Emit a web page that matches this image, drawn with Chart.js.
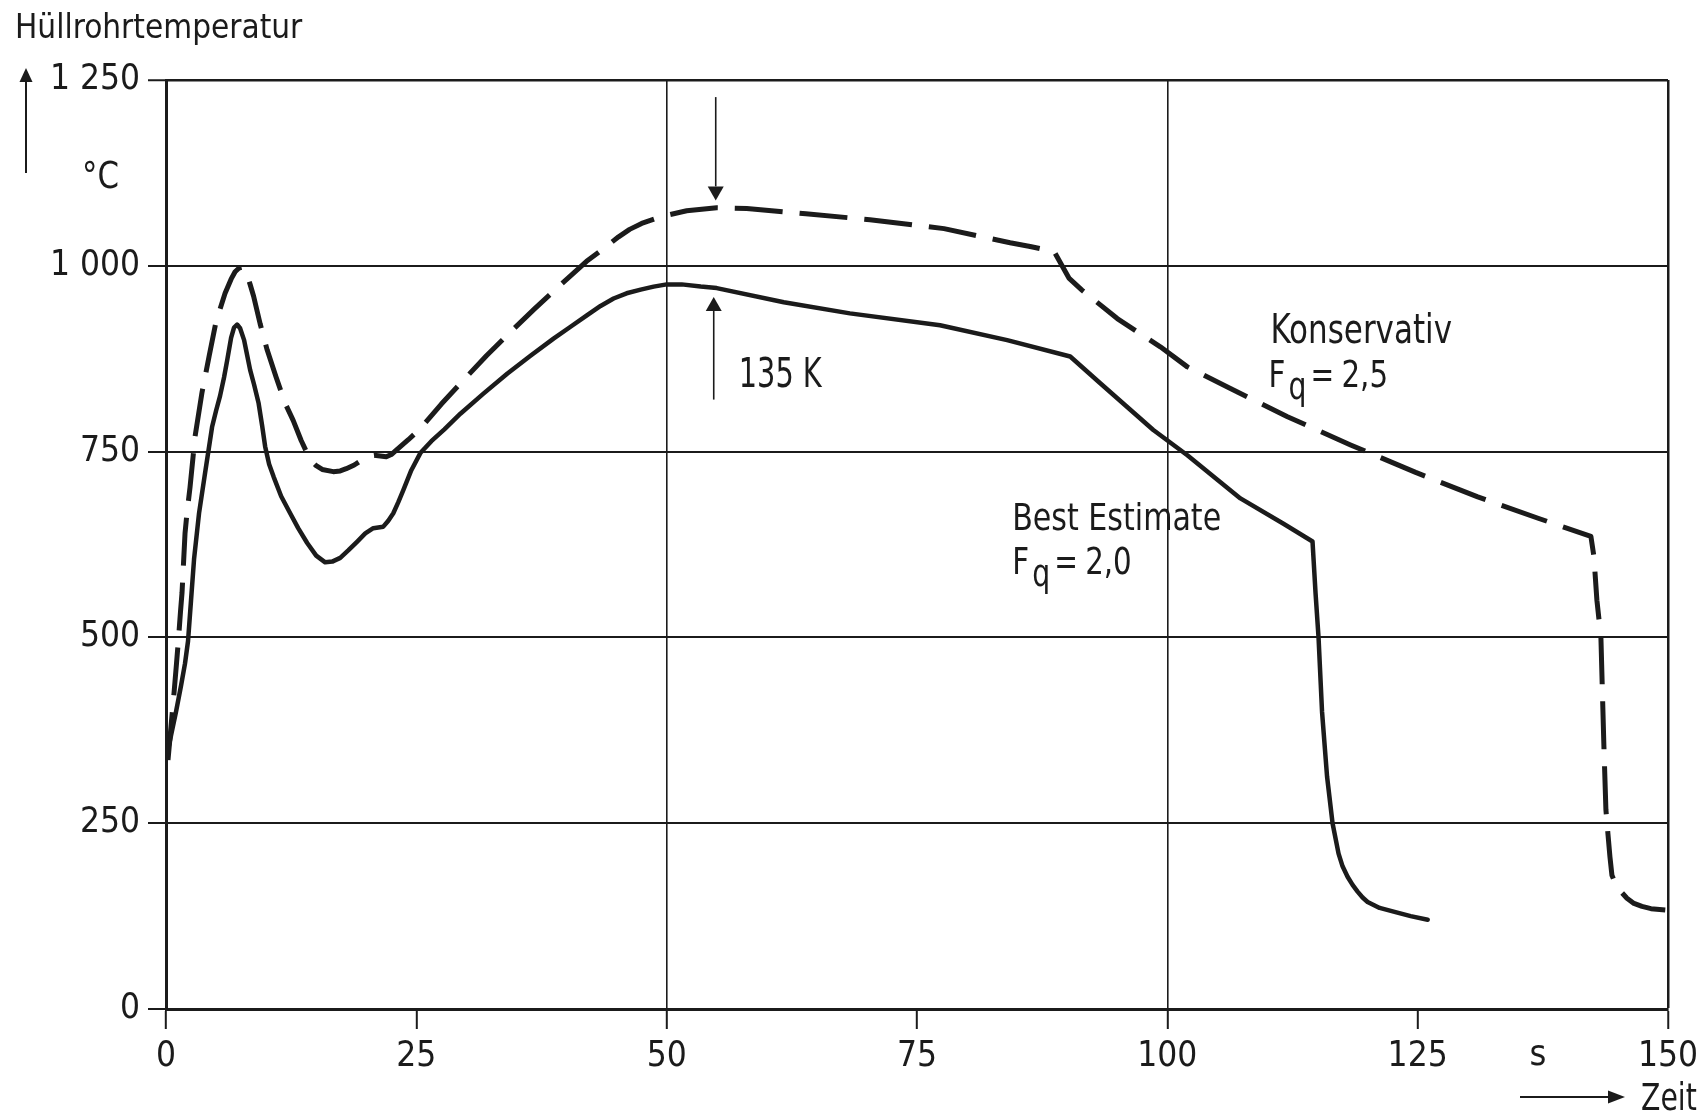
<!DOCTYPE html>
<html>
<head>
<meta charset="utf-8">
<title>Hüllrohrtemperatur</title>
<script src="https://cdn.jsdelivr.net/npm/chart.js@4.4.1/dist/chart.umd.min.js"></script>
<style>
  html, body { margin: 0; padding: 0; background: #fff; }
  canvas { display: block; }
</style>
</head>
<body>
<canvas id="chart" width="1708" height="1117"></canvas>
<script>
// Hüllrohrtemperatur (°C) über der Zeit (s) für zwei Rechenannahmen

// Best Estimate, Fq = 2,0 (durchgezogen)
const timeBestEstimate = [0, 0.5, 1.0, 1.5, 1.9, 2.2, 2.5, 2.8, 3.3, 3.9, 4.6, 5.0, 5.4, 5.8, 6.1, 6.5, 6.8, 7.1, 7.4, 7.8,
  8.1, 8.4, 8.8, 9.25, 9.6, 9.9, 10.3, 10.75, 11.5, 12.4, 13.2, 14.1, 15.0, 15.9, 16.6, 17.4, 18.2, 19.1, 19.9, 20.7,
  21.7, 22.2, 22.7, 23.2, 23.7, 24.5, 25.4, 26.5, 27.8, 29.4, 31.7, 34.1, 36.4, 38.7, 40.4, 42.1, 43.4, 44.7, 46.0, 47.4,
  48.7, 50.0, 51.5, 53.4, 55, 61.7, 68.3, 77.3, 84, 90.3, 93.3, 98.6, 102, 105, 107.3, 111.6, 114.5, 114.8, 115.1, 115.45,
  115.95, 116.5, 117.1, 117.5, 118.0, 118.5, 119, 119.5, 120, 121.2, 122.6, 124.3, 126];
const tempBestEstimate = [335, 368, 400, 435, 465, 495, 550, 605, 667, 721, 783, 805, 825, 850, 872, 903, 917, 921, 916, 900,
  880, 860, 840, 815, 785, 757, 733, 716, 690, 667, 647, 627, 610, 601, 602, 607, 617, 629, 640, 647,
  649, 657, 667, 682, 698, 725, 748, 764, 780, 801, 828, 855, 879, 902, 918, 934, 946, 956, 963, 968,
  972, 975, 975, 972, 970, 951, 936, 920, 900, 878, 842, 779, 745, 712, 687, 653, 629, 560, 500, 400,
  313, 250, 209, 192, 178, 167, 158, 150, 144, 136, 131, 125, 120];

// Konservativ, Fq = 2,5 (gestrichelt)
const timeKonservativ = [0.2, 0.5, 0.8, 1.05, 1.26, 1.45, 1.6, 1.75, 1.9, 2.1, 2.4, 2.9, 3.6, 4.3, 5.0, 5.9, 6.5, 6.9, 7.3, 7.6,
  8.0, 8.4, 8.75, 9.4, 10.1, 11.0, 11.9, 12.7, 13.5, 14.4, 15.0, 15.6, 16.7, 17.4, 18.0, 18.8, 19.6, 20.3, 20.8, 21.4,
  22.0, 22.5, 23.0, 24.2, 25.4, 27.5, 29.7, 32.0, 34.4, 36.8, 39.2, 40.7, 42.0, 43.5, 45.2, 46.3, 47.5, 48.8, 50, 52,
  55, 58, 63.9, 70.3, 77.7, 84.3, 86.3, 88.7, 90.2, 91.5, 95, 99.3, 102, 106.3, 112, 118.3, 124.8, 131, 137.1, 142.3,
  142.6, 142.9, 143.3, 143.6, 143.8, 144.0, 144.2, 144.4, 144.8, 145.3, 145.9, 146.6, 147.4, 148.3, 150];
const tempKonservativ = [335, 380, 425, 465, 500, 535, 560, 600, 640, 668, 702, 770, 830, 878, 925, 963, 982, 992, 997, 998,
  992, 975, 959, 922, 887, 850, 815, 792, 765, 739, 731, 726, 723, 724, 727, 732, 739, 744, 745, 744,
  743, 746, 752, 766, 781, 814, 846, 879, 911, 942, 972, 990, 1006, 1021, 1039, 1049, 1057, 1063, 1068, 1074,
  1078, 1077, 1070, 1062, 1050, 1031, 1026, 1019, 983, 967, 929, 891, 864, 835, 797, 759, 722, 689, 660, 636,
  609, 550, 500, 353, 268, 236, 205, 180, 167, 158, 149, 142, 138, 135, 133];

// Achsteilung
const xTickValues = [0, 25, 50, 75, 100, 125, 150];
const yTickValues = [0, 250, 500, 750, 1000, 1250];
const yTickLabels = ['0', '250', '500', '750', '1 000', '1 250'];

const INK = '#1b1b1b';
const FONT = '"DejaVu Sans Condensed", "Liberation Sans", sans-serif';

const toPoints = (xs, ys) => xs.map((t, i) => ({ x: t, y: ys[i] }));

function arrow(ctx, x1, y1, x2, y2, head, half, width) {
  const ang = Math.atan2(y2 - y1, x2 - x1);
  const bx = x2 - head * Math.cos(ang), by = y2 - head * Math.sin(ang);
  ctx.lineWidth = width;
  ctx.beginPath(); ctx.moveTo(x1, y1); ctx.lineTo(bx, by); ctx.stroke();
  ctx.beginPath();
  ctx.moveTo(x2, y2);
  ctx.lineTo(bx + half * Math.sin(ang), by - half * Math.cos(ang));
  ctx.lineTo(bx - half * Math.sin(ang), by + half * Math.cos(ang));
  ctx.closePath(); ctx.fill();
}

// schmal laufende Schrift: horizontal gestaucht
function text(ctx, s, x, y, size, sx, align) {
  ctx.save();
  ctx.font = `${size}px ${FONT}`;
  ctx.textAlign = align || 'left';
  ctx.textBaseline = 'alphabetic';
  ctx.translate(x, y);
  ctx.scale(sx, 1);
  ctx.fillText(s, 0, 0);
  ctx.restore();
}

// F mit tiefgestelltem q, dann "= Wert"
function fqLabel(ctx, x0, base, value) {
  text(ctx, 'F', x0, base, 37, 0.88);
  text(ctx, 'q', x0 + 20, base + 12, 37, 0.85);
  text(ctx, '=', x0 + 42, base, 37, 0.85);
  text(ctx, value, x0 + 73, base, 37, 0.88);
}

const labelsPlugin = {
  id: 'beschriftung',
  afterDraw(chart) {
    const { ctx, chartArea: a, scales: { x, y } } = chart;
    ctx.save();
    ctx.fillStyle = INK;
    ctx.strokeStyle = INK;

    // Achsentitel y
    text(ctx, 'Hüllrohrtemperatur', a.left - 151, a.top - 42, 33, 1);
    arrow(ctx, a.left - 140, a.top + 93, a.left - 140, a.top - 12, 14, 6.5, 2);
    text(ctx, '°C', a.left - 84, a.top + 108, 38, 0.9);

    // Achsentitel x
    text(ctx, 's', x.getPixelForValue(137), a.bottom + 56, 36, 1, 'center');
    arrow(ctx, a.right - 148, a.bottom + 88, a.right - 43, a.bottom + 88, 17, 6.5, 2);
    text(ctx, 'Zeit', a.right - 27, a.bottom + 101, 37, 0.85);

    // Differenz der Maxima
    arrow(ctx, x.getPixelForValue(54.9), y.getPixelForValue(1227), x.getPixelForValue(54.9), y.getPixelForValue(1088), 14, 8, 1.6);
    arrow(ctx, x.getPixelForValue(54.7), y.getPixelForValue(820), x.getPixelForValue(54.7), y.getPixelForValue(958), 14, 8, 1.6);
    text(ctx, '135 K', x.getPixelForValue(57.2), y.getPixelForValue(837), 40, 0.8);

    // Kurvenbezeichnungen
    text(ctx, 'Konservativ', x.getPixelForValue(110.3), y.getPixelForValue(896), 41, 0.84);
    fqLabel(ctx, x.getPixelForValue(110.1), y.getPixelForValue(837), '2,5');
    text(ctx, 'Best Estimate', x.getPixelForValue(84.5), y.getPixelForValue(644.5), 38, 0.88);
    fqLabel(ctx, x.getPixelForValue(84.5), y.getPixelForValue(585), '2,0');

    ctx.restore();
  }
};

new Chart(document.getElementById('chart'), {
  type: 'line',
  data: {
    datasets: [
      {
        label: 'Best Estimate  Fq = 2,0',
        data: toPoints(timeBestEstimate, tempBestEstimate),
        borderColor: INK,
        borderWidth: 4.5,
        tension: 0,
        pointRadius: 0,
        borderJoinStyle: 'round',
        borderCapStyle: 'round'
      },
      {
        label: 'Konservativ  Fq = 2,5',
        data: toPoints(timeKonservativ, tempKonservativ),
        borderColor: INK,
        borderWidth: 5,
        borderDash: [48, 17],
        tension: 0,
        pointRadius: 0,
        borderJoinStyle: 'round',
        borderCapStyle: 'butt'
      }
    ]
  },
  options: {
    responsive: false,
    animation: false,
    events: [],
    layout: { padding: { top: 80, right: 40, left: 0, bottom: 0 } },
    plugins: { legend: { display: false }, tooltip: { enabled: false } },
    scales: {
      x: {
        type: 'linear',
        min: 0,
        max: 150,
        afterFit: (s) => { s.height = 108; },
        afterBuildTicks: (s) => { s.ticks = xTickValues.map(v => ({ value: v })); },
        border: { display: true, color: INK, width: 3 },
        grid: {
          drawTicks: true,
          tickLength: 20,
          tickWidth: 2,
          tickColor: INK,
          color: (c) => (c.tick && c.tick.value > 0 && c.tick.value % 50 === 0) ? INK : 'rgba(0,0,0,0)',
          lineWidth: (c) => (c.tick && c.tick.value === 150) ? 2.5 : 1.6
        },
        ticks: {
          color: INK,
          padding: 7,
          maxRotation: 0,
          autoSkip: false,
          font: { family: FONT, size: 35 },
          callback: (v) => String(v)
        }
      },
      y: {
        type: 'linear',
        min: 0,
        max: 1250,
        afterFit: (s) => { s.width = 166; },
        afterBuildTicks: (s) => { s.ticks = yTickValues.map(v => ({ value: v })); },
        border: { display: true, color: INK, width: 3 },
        grid: {
          drawTicks: true,
          tickLength: 18,
          tickWidth: 2,
          tickColor: INK,
          color: INK,
          lineWidth: (c) => (c.tick && c.tick.value === 1250) ? 2.5 : 2
        },
        ticks: {
          color: INK,
          padding: 8,
          autoSkip: false,
          font: { family: FONT, size: 35 },
          callback: (v) => yTickLabels[yTickValues.indexOf(v)]
        }
      }
    }
  },
  plugins: [labelsPlugin]
});
</script>
</body>
</html>
